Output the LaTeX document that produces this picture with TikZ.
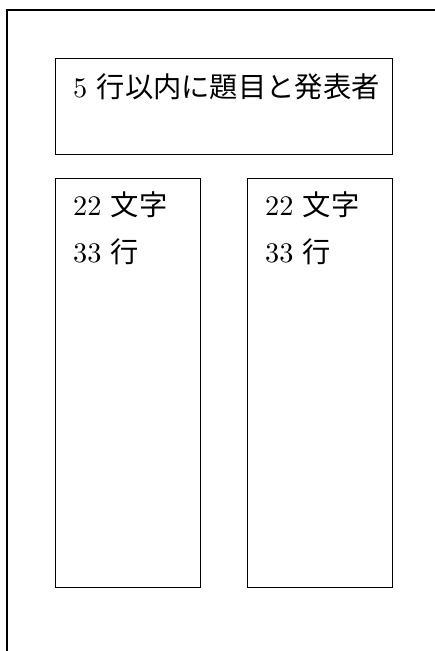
\documentclass[tikz,border=0pt]{standalone}
\usepackage{fontspec}
\setmainfont{lmroman10-regular}[Extension=.otf]
\newfontfamily\cjk{Noto Sans CJK JP}
\tikzset{panel/.style={draw=black,line width=1.3pt,anchor=north west,inner sep=0pt},
  txt/.style={anchor=base west,inner sep=0pt,font=\fontsize{28.3}{34}\selectfont}}

\begin{document}
\begin{tikzpicture}[x=1pt,y=-1pt]
\useasboundingbox (0,0) rectangle (435,651);
\draw[line width=1.3pt] (7,651) -- (7,10) -- (435,10);
\node[panel,minimum width=337pt,minimum height=96pt] (title) at (55,58) {};
	\node[txt] (titletext) at ([shift={(18,39)}]title.north west) {5 {\cjk 行以内に題目と発表者}};
\node[panel,minimum width=145pt,minimum height=409pt] (left) at (55,178) {};
	\node[txt] (leftchars) at ([shift={(18,37)}]left.north west) {22 {\cjk 文字}};
	\node[txt] (leftlines) at ([shift={(0,47)}]leftchars.base west) {33 {\cjk 行}};
\node[panel,minimum width=145pt,minimum height=409pt] (right) at (247,178) {};
	\node[txt] (rightchars) at ([shift={(18,37)}]right.north west) {22 {\cjk 文字}};
	\node[txt] (rightlines) at ([shift={(0,47)}]rightchars.base west) {33 {\cjk 行}};
\end{tikzpicture}
\end{document}
